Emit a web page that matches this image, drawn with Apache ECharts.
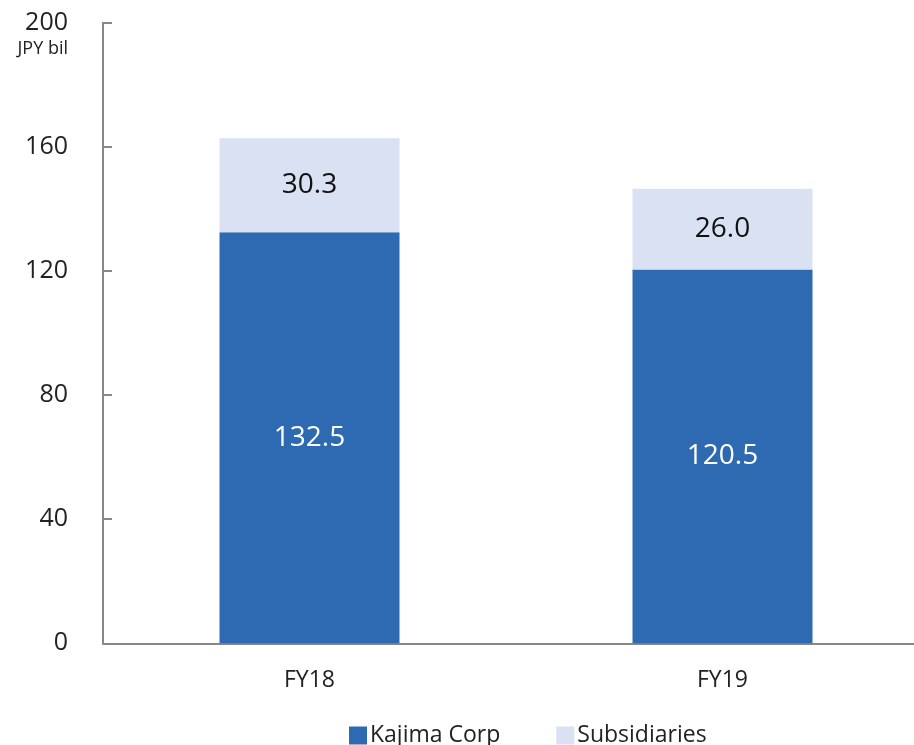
<!DOCTYPE html>
<html>
<head>
<meta charset="utf-8">
<script src="https://cdn.jsdelivr.net/npm/echarts@6/dist/echarts.min.js"></script>
<style>
html,body{margin:0;padding:0;background:#fff;overflow:hidden;width:914px;height:745px;}
#chart{width:929px;height:745px;}
</style>
</head>
<body>
<div id="chart"></div>
<script>
const categories = ['FY18', 'FY19'];
const kajimaCorp = [132.5, 120.5];
const subsidiaries = [30.3, 26.0];
const seriesNames = ['Kajima Corp', 'Subsidiaries'];
const yUnit = 'JPY bil';

const FONT = '"Open Sans", "Noto Sans", sans-serif';
const chart = echarts.init(document.getElementById('chart'));
chart.setOption({
  backgroundColor: '#ffffff',
  animation: false,
  textStyle: { fontFamily: FONT },
  grid: { left: 103, right: 0, top: 22.7, bottom: 101.7 },
  legend: {
    data: seriesNames,
    left: 344,
    top: 719,
    itemWidth: 18,
    itemHeight: 18,
    itemGap: 56,
    icon: 'rect',
    textStyle: { fontFamily: FONT, fontSize: 23, color: '#222', padding: [0,0,0,-2] }
  },
  graphic: [{
    type: 'text',
    style: { text: yUnit, x: 68, y: 49, align: 'right', verticalAlign: 'middle',
             font: '18px ' + FONT, fill: '#222' }
  }],
  xAxis: {
    type: 'category',
    data: categories,
    axisLine: { lineStyle: { color: '#888', width: 2 } },
    axisTick: { show: false },
    axisLabel: { fontSize: 23, color: '#222', margin: 26, fontFamily: FONT }
  },
  yAxis: {
    type: 'value',
    min: 0, max: 200, interval: 40,
    axisLine: { show: true, lineStyle: { color: '#888', width: 2 } },
    axisTick: { show: true, inside: true, length: 9, lineStyle: { color: '#888', width: 2 } },
    splitLine: { show: false },
    axisLabel: { fontSize: 25, color: '#222', margin: 35, fontFamily: FONT }
  },
  series: [
    {
      name: seriesNames[0], type: 'bar', stack: 'total', data: kajimaCorp,
      barWidth: 180,
      itemStyle: { color: '#2E6AB2' },
      label: { show: true, position: 'inside', color: '#ffffff', fontSize: 28, fontFamily: FONT,
               formatter: p => p.value.toFixed(1) }
    },
    {
      name: seriesNames[1], type: 'bar', stack: 'total', data: subsidiaries,
      barWidth: 180,
      itemStyle: { color: '#D9E1F2' },
      label: { show: true, position: 'inside', color: '#111', fontSize: 28, fontFamily: FONT,
               formatter: p => p.value.toFixed(1) }
    }
  ]
});
</script>
</body>
</html>
